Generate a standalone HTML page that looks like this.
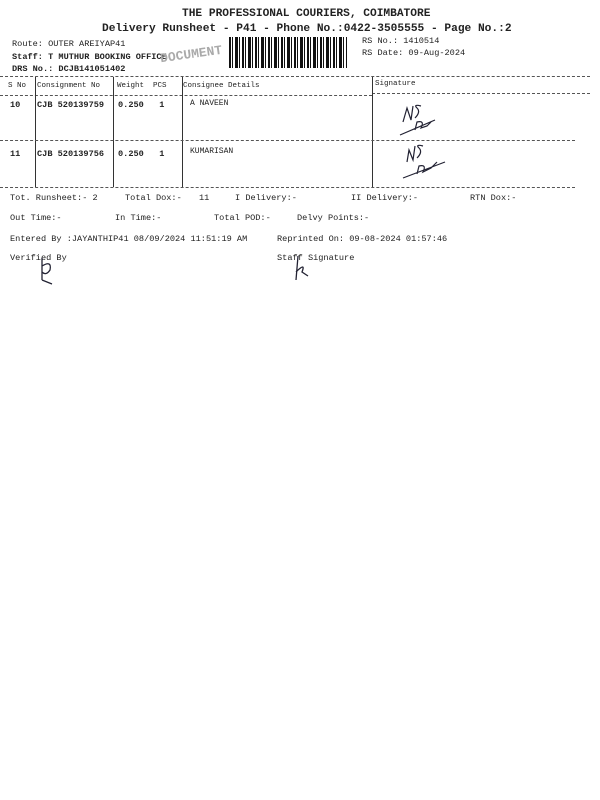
<!DOCTYPE html>
<html><head><meta charset="utf-8"><style>
html,body{margin:0;padding:0;background:#fff;}
body{width:600px;height:800px;position:relative;overflow:hidden;font-family:"Liberation Mono",monospace;color:#222;}
.t{position:absolute;white-space:pre;font-size:8.6px;line-height:1;}
.b{font-weight:bold;}
.h{position:absolute;border-top:1px dashed #555;height:0;}
.v{position:absolute;border-left:1px solid #333;width:0;}
</style></head><body>
<div class="t b" style="left:182px;top:9px;font-size:11.2px;">THE PROFESSIONAL COURIERS, COIMBATORE</div>
<div class="t b" style="left:102px;top:24px;font-size:11.2px;">Delivery Runsheet - P41 - Phone No.:0422-3505555 - Page No.:2</div>
<div class="t" style="left:12px;top:40px;">Route: OUTER AREIYAP41</div>
<div class="t b" style="left:12px;top:53px;">Staff: T MUTHUR BOOKING OFFICE</div>
<div class="t b" style="left:12px;top:65px;">DRS No.: DCJB141051402</div>
<div class="t" style="left:362px;top:37px;">RS No.: 1410514</div>
<div class="t" style="left:362px;top:49px;">RS Date: 09-Aug-2024</div>
<div class="t b" style="left:160px;top:48px;font-size:13px;color:#aaa;transform:rotate(-8deg);">DOCUMENT</div>
<div style="position:absolute;left:229px;top:37px;width:118px;height:31px;background:repeating-linear-gradient(90deg,#111 0 2px,#fff 2px 3px,#111 3px 4px,#fff 4px 6px,#111 6px 9px,#fff 9px 10px,#111 10px 11px,#fff 11px 13px);"></div>
<div class="h" style="left:0;top:76px;width:590px;"></div>
<div class="t" style="left:8px;top:83px;font-size:7.5px;">S No</div>
<div class="t" style="left:37px;top:83px;font-size:7.5px;">Consignment No</div>
<div class="t" style="left:117px;top:83px;font-size:7.5px;">Weight  PCS</div>
<div class="t" style="left:183px;top:83px;font-size:7.5px;">Consignee Details</div>
<div class="t" style="left:375px;top:81px;font-size:7.5px;">Signature</div>
<div class="h" style="left:0;top:95px;width:372px;"></div>
<div class="h" style="left:372px;top:93px;width:218px;"></div>
<div class="v" style="left:35px;top:77px;height:110px;"></div>
<div class="v" style="left:113px;top:77px;height:110px;"></div>
<div class="v" style="left:182px;top:77px;height:110px;"></div>
<div class="v" style="left:372px;top:77px;height:110px;"></div>
<div class="t b" style="left:10px;top:101px;">10</div>
<div class="t b" style="left:37px;top:101px;">CJB 520139759</div>
<div class="t b" style="left:118px;top:101px;">0.250   1</div>
<div class="t" style="left:190px;top:100px;font-size:8px;">A NAVEEN</div>
<div class="h" style="left:0;top:140px;width:575px;"></div>
<div class="t b" style="left:10px;top:150px;">11</div>
<div class="t b" style="left:37px;top:150px;">CJB 520139756</div>
<div class="t b" style="left:118px;top:150px;">0.250   1</div>
<div class="t" style="left:190px;top:148px;font-size:8px;">KUMARISAN</div>
<div class="h" style="left:0;top:187px;width:575px;"></div>
<svg style="position:absolute;left:395px;top:100px" width="70" height="90" viewBox="0 0 70 90" fill="none" stroke="#223" stroke-width="1.2">
<path d="M8 22 L12 8 L16 20 L18 6 M20 18 Q26 12 22 8 Q18 4 26 6"/>
<path d="M5 35 L40 20 M20 30 L22 22 Q30 20 26 28 L32 26 L36 22"/>
<path d="M12 62 L14 50 L18 60 L20 46 M22 58 Q28 52 24 48 Q20 44 28 46"/>
<path d="M8 78 L50 62 M22 74 L24 66 Q32 64 28 72 L36 68 L42 62"/>
</svg>
<div class="t" style="left:10px;top:194px;">Tot. Runsheet:- 2</div>
<div class="t" style="left:125px;top:194px;">Total Dox:-</div>
<div class="t" style="left:199px;top:194px;">11</div>
<div class="t" style="left:235px;top:194px;">I Delivery:-</div>
<div class="t" style="left:351px;top:194px;">II Delivery:-</div>
<div class="t" style="left:470px;top:194px;">RTN Dox:-</div>
<div class="t" style="left:10px;top:214px;">Out Time:-</div>
<div class="t" style="left:115px;top:214px;">In Time:-</div>
<div class="t" style="left:214px;top:214px;">Total POD:-</div>
<div class="t" style="left:297px;top:214px;">Delvy Points:-</div>
<div class="t" style="left:10px;top:235px;">Entered By :JAYANTHIP41 08/09/2024 11:51:19 AM</div>
<div class="t" style="left:277px;top:235px;">Reprinted On: 09-08-2024 01:57:46</div>
<div class="t" style="left:10px;top:254px;">Verified By</div>
<div class="t" style="left:277px;top:254px;">Staff Signature</div>
<svg style="position:absolute;left:36px;top:256px" width="30" height="30" fill="none" stroke="#223" stroke-width="1.3"><path d="M6 2 L6 24 M6 10 Q16 4 14 14 Q10 20 6 16 M6 24 L16 28"/></svg>
<svg style="position:absolute;left:292px;top:254px" width="20" height="30" fill="none" stroke="#223" stroke-width="1.3"><path d="M6 2 L4 26 M4 18 Q14 8 10 18 L16 22"/></svg>
</body></html>
